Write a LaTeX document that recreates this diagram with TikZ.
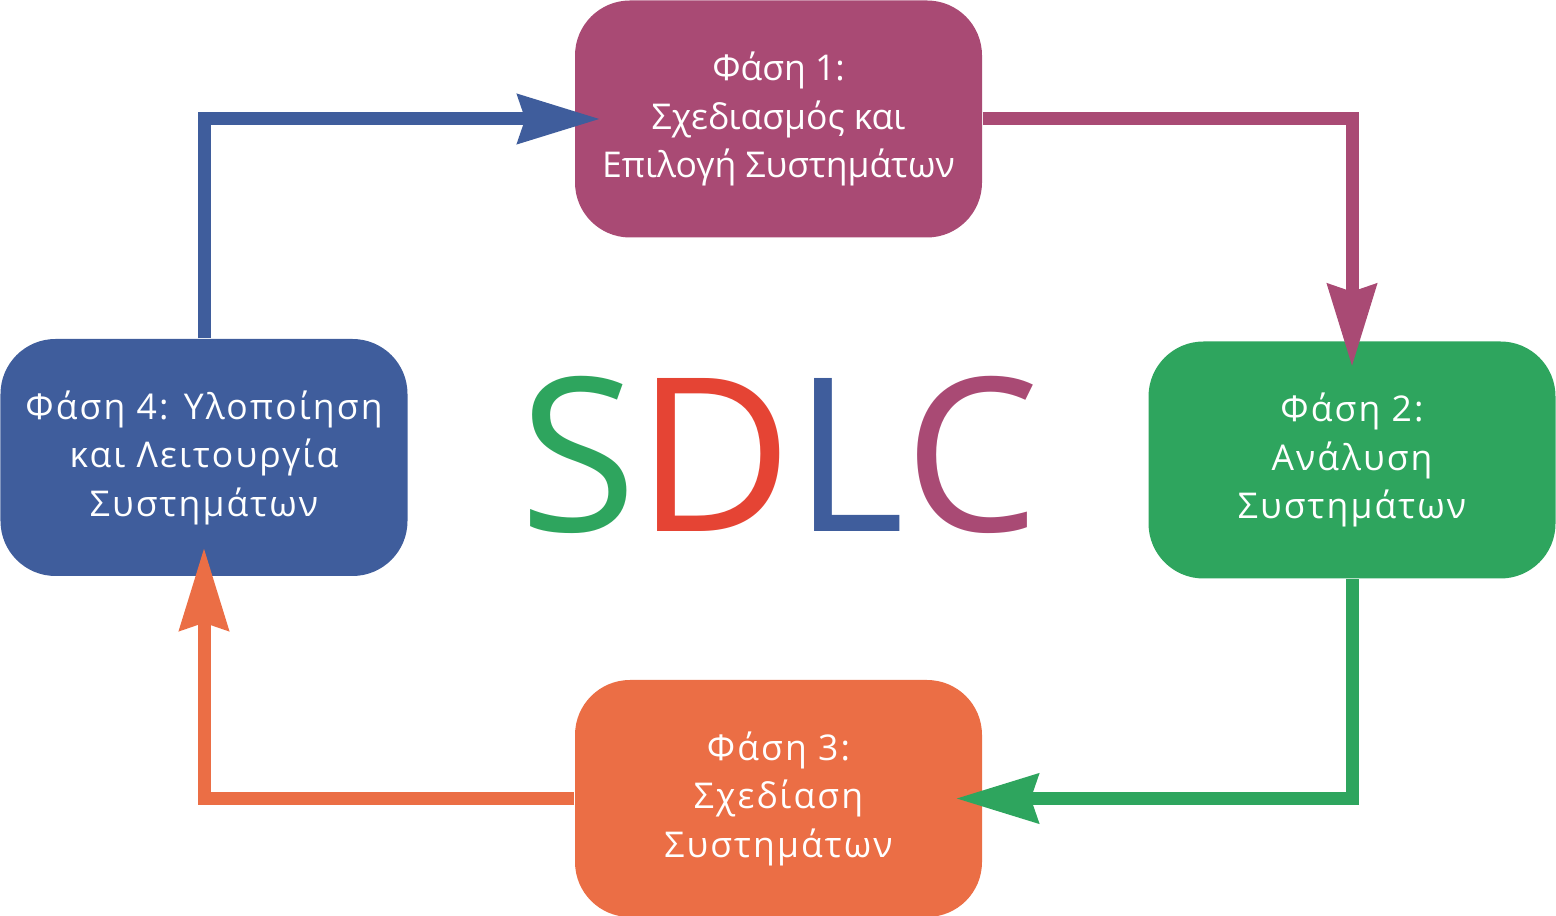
\documentclass[tikz,border=0pt]{standalone}
\usepackage{fontspec}
\setmainfont{Open Sans}
\newfontfamily\spacedfont{Open Sans}[LetterSpace=6]
\usetikzlibrary{arrows.meta, positioning}

\definecolor{faseA}{HTML}{A94A74}
\definecolor{faseB}{HTML}{2EA55E}
\definecolor{faseC}{HTML}{EB6E45}
\definecolor{faseD}{HTML}{3F5D9C}
\definecolor{sdlcred}{HTML}{E54434}

\tikzset{
  phase/.style={rectangle, rounded corners=0.55cm, minimum width=4.07cm,
    minimum height=2.37cm, text=white, align=center, inner sep=0pt,
    font=\fontsize{10.1}{13.8}\selectfont},
  spaced/.style={font=\spacedfont\fontsize{10.1}{13.8}\selectfont},
  flow/.style={line width=0.13cm,
    -{Stealth[length=0.82cm, width=0.48cm, inset=0.07cm]}}
}

\begin{document}
\begin{tikzpicture}
  \useasboundingbox (0,0) rectangle (15.56,-9.16);

  % οι φάσεις
  \node[phase, fill=faseA] (p1) at (7.785,-1.19) {Φάση 1:\\Σχεδιασμός και\\Επιλογή Συστημάτων};
  \node[phase, spaced, fill=faseB] (p2) at (13.52,-4.60) {Φάση 2:\\Ανάλυση\\Συστημάτων};
  \node[phase, spaced, fill=faseC] (p3) at (7.785,-7.985) {Φάση 3:\\Σχεδίαση\\Συστημάτων};
  \node[phase, spaced, fill=faseD] (p4) at (2.04,-4.575) {Φάση 4: Υλοποίηση\\και Λειτουργία\\Συστημάτων};

  % ο τίτλος
  \node[font=\fontsize{61}{63}\selectfont, inner sep=0pt] (title) at (7.795,-4.55)
    {\textcolor{faseB}{S}\textcolor{sdlcred}{D}\textcolor{faseD}{L}\textcolor{faseA}{C}};

  % τα βέλη του κύκλου
  \draw[flow, faseD, shorten >=-0.26cm] (p4.north) |- (p1.west);
  \draw[flow, faseA, shorten >=-0.26cm] (p1.east) -| (p2.north);
  \draw[flow, faseB, shorten >=-0.27cm] (p2.south) |- (p3.east);
  \draw[flow, faseC, shorten >=-0.29cm] (p3.west) -| (p4.south);
\end{tikzpicture}
\end{document}
